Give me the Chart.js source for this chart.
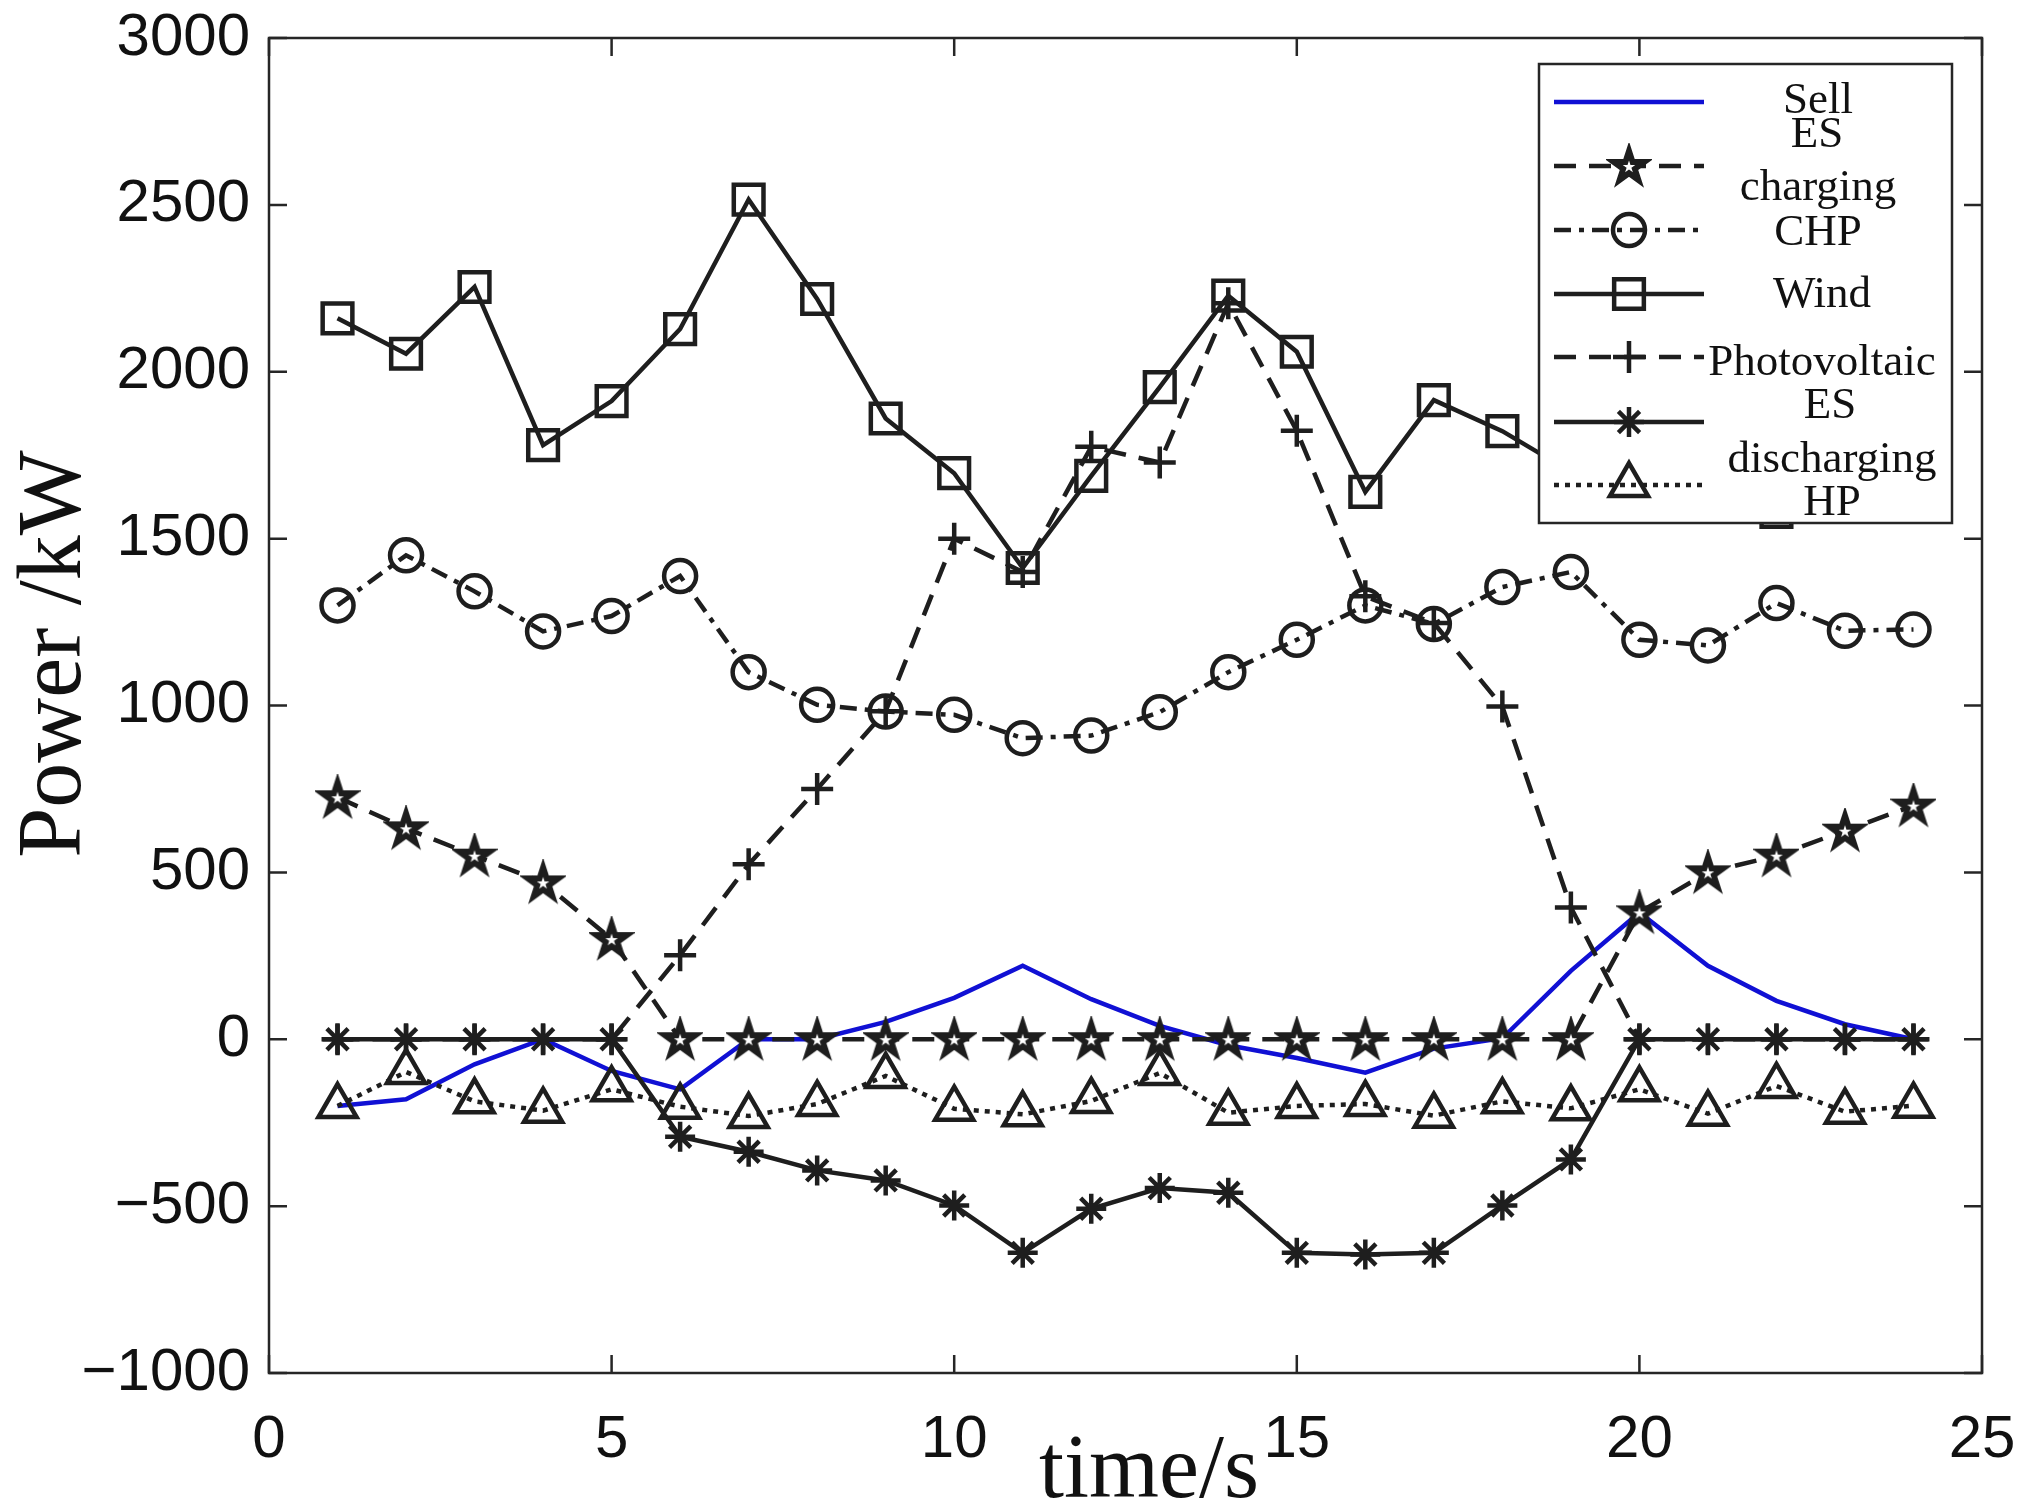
<!DOCTYPE html>
<html>
<head>
<meta charset="utf-8">
<title>Power</title>
<script src="https://cdn.jsdelivr.net/npm/chart.js@4.4.1/dist/chart.umd.min.js"></script>
<style>
  html, body { margin: 0; padding: 0; background: #fff; }
  #wrap { width: 2024px; height: 1511px; position: relative; }
</style>
</head>
<body>
<div id="wrap"><canvas id="powerChart"></canvas></div>
<script>
// hourly values (kW)
const hours = [1, 2, 3, 4, 5, 6, 7, 8, 9, 10, 11, 12, 13, 14, 15, 16, 17, 18, 19, 20, 21, 22, 23, 24];
const sell = [-200, -180, -75, 0, -95, -150, 0, 0, 52, 124, 220, 120, 40, -18, -56, -100, -28, 3, 205, 380, 220, 115, 45, 0];
const esCharging = [725, 632, 550, 470, 300, 0, 0, 0, 0, 0, 0, 0, 0, 0, 0, 0, 0, 0, 0, 380, 500, 550, 625, 700];
const chp = [1300, 1450, 1342, 1222, 1268, 1388, 1100, 1002, 982, 972, 902, 910, 980, 1100, 1197, 1300, 1244, 1355, 1400, 1197, 1180, 1307, 1224, 1228];
const wind = [2160, 2054, 2254, 1780, 1912, 2128, 2516, 2218, 1860, 1696, 1412, 1688, 1954, 2228, 2060, 1640, 1915, 1822, 1700, 1760, 1660, 1580, 1700, 1760];
const pv = [0, 0, 0, 0, 0, 252, 524, 750, 983, 1500, 1400, 1775, 1728, 2205, 1823, 1327, 1247, 997, 395, 0, 0, 0, 0, 0];
const esDischarging = [0, 0, 0, 0, 0, -292, -337, -393, -423, -498, -640, -508, -446, -460, -640, -645, -640, -498, -360, 0, 0, 0, 0, 0];
const hp = [-200, -98, -186, -214, -150, -202, -230, -194, -110, -208, -225, -185, -101, -220, -200, -194, -229, -186, -207, -150, -223, -140, -217, -199];

const seriesNames = ["Sell", "ES charging", "CHP", "Wind", "Photovoltaic", "ES discharging", "HP"];
const xTicks = [0, 5, 10, 15, 20, 25];
const yTicks = [-1000, -500, 0, 500, 1000, 1500, 2000, 2500, 3000];

const INK = "#1e1e1e";
const BLUE = "#1010d4";
const serif = '"Liberation Serif", "Times New Roman", Times, serif';
const sans = '"Liberation Sans", Arial, Helvetica, sans-serif';

// MATLAB style pentagram: thick outline leaves a small white star in the middle
function starPath(ctx, cx, cy, R) {
  const r = R * 0.382;
  ctx.beginPath();
  for (let i = 0; i < 10; i++) {
    const rad = i % 2 === 0 ? R : r;
    const a = -Math.PI / 2 + i * Math.PI / 5;
    const px = cx + rad * Math.cos(a), py = cy + rad * Math.sin(a);
    if (i === 0) ctx.moveTo(px, py); else ctx.lineTo(px, py);
  }
  ctx.closePath();
}
function makePentagram(size) {
  const c = document.createElement("canvas");
  c.width = size; c.height = size;
  const g = c.getContext("2d");
  const h = size / 2;
  starPath(g, h, h + 1, h - 1.5);
  g.fillStyle = INK; g.fill();
  g.strokeStyle = INK; g.lineWidth = 2.5; g.lineJoin = "miter"; g.stroke();
  starPath(g, h, h + 1, (h - 1) * 0.3);
  g.fillStyle = "#ffffff"; g.fill();
  return c;
}
const pentagram = makePentagram(46);

const toXY = (vals) => vals.map((v, i) => ({ x: hours[i], y: v }));

function series(i, vals, color, width, dash, style, radius) {
  return {
    label: seriesNames[i],
    data: toXY(vals),
    borderColor: color,
    borderWidth: width,
    borderDash: dash,
    pointStyle: style,
    pointRadius: radius,
    pointHoverRadius: radius,
    pointBorderColor: INK,
    pointBorderWidth: 4.5,
    pointBackgroundColor: "rgba(0,0,0,0)",
    tension: 0,
    fill: false,
    order: 6 - i
  };
}

const datasets = [
  series(0, sell, BLUE, 4.5, [], false, 0),
  series(1, esCharging, INK, 4.5, [22, 13], pentagram, 21),
  series(2, chp, INK, 4.5, [17, 8, 5, 8], "circle", 16),
  series(3, wind, INK, 4.5, [], "rect", 21),
  series(4, pv, INK, 4.5, [22, 13], "cross", 16),
  series(5, esDischarging, INK, 4.5, [], "star", 15),
  series(6, hp, INK, 4.5, [5, 6], "triangle", 22)
];

// box, inward ticks on all four sides, legend and axis titles
const matlabFrame = {
  id: "matlabFrame",
  afterDatasetsDraw(chart) {
    const { ctx, chartArea: a, scales } = chart;
    const tl = 18;
    ctx.save();
    ctx.setLineDash([]);
    ctx.strokeStyle = "#262626";
    ctx.lineWidth = 2.5;
    ctx.strokeRect(a.left, a.top, a.right - a.left, a.bottom - a.top);
    ctx.beginPath();
    scales.x.ticks.forEach((t) => {
      const px = scales.x.getPixelForValue(t.value);
      ctx.moveTo(px, a.bottom); ctx.lineTo(px, a.bottom - tl);
      ctx.moveTo(px, a.top); ctx.lineTo(px, a.top + tl);
    });
    scales.y.ticks.forEach((t) => {
      const py = scales.y.getPixelForValue(t.value);
      ctx.moveTo(a.left, py); ctx.lineTo(a.left + tl, py);
      ctx.moveTo(a.right, py); ctx.lineTo(a.right - tl, py);
    });
    ctx.stroke();

    // legend
    const box = { x: 1539, y: 64, w: 413, h: 459 };
    ctx.fillStyle = "#ffffff";
    ctx.fillRect(box.x, box.y, box.w, box.h);
    ctx.strokeStyle = "#262626";
    ctx.lineWidth = 2.5;
    ctx.strokeRect(box.x, box.y, box.w, box.h);

    const rows = [102, 166, 230, 294, 357, 422, 485];
    chart.data.datasets.forEach((ds, i) => {
      const ry = rows[i];
      ctx.save();
      ctx.strokeStyle = ds.borderColor;
      ctx.lineWidth = ds.borderWidth;
      ctx.setLineDash(ds.borderDash || []);
      ctx.beginPath();
      ctx.moveTo(1554, ry); ctx.lineTo(1704, ry);
      ctx.stroke();
      ctx.setLineDash([]);
      if (ds.pointRadius > 0) {
        ctx.strokeStyle = INK;
        ctx.fillStyle = "rgba(0,0,0,0)";
        ctx.lineWidth = ds.pointBorderWidth;
        Chart.helpers.drawPoint(ctx, {
          pointStyle: ds.pointStyle,
          radius: ds.pointRadius,
          rotation: 0,
          borderWidth: ds.pointBorderWidth
        }, 1629, ry);
      }
      ctx.restore();
    });

    // label lines as MATLAB laid them out (wrapped, centred)
    const textLines = [
      ["Sell", 1818, 113],
      ["ES", 1817, 147], ["charging", 1818, 200],
      ["CHP", 1818, 245],
      ["Wind", 1822, 307],
      ["Photovoltaic", 1822, 375],
      ["ES", 1830, 418], ["discharging", 1832, 472],
      ["HP", 1832, 515]
    ];
    ctx.fillStyle = "#111111";
    ctx.font = "45px " + serif;
    ctx.textAlign = "center";
    ctx.textBaseline = "alphabetic";
    textLines.forEach(([t, tx, ty]) => ctx.fillText(t, tx, ty));
    ctx.restore();
  },
  afterDraw(chart) {
    const { ctx } = chart;
    ctx.save();
    ctx.fillStyle = "#111111";
    ctx.font = "90px " + serif;
    ctx.textAlign = "center";
    ctx.textBaseline = "alphabetic";
    ctx.fillText("time/s", 1149, 1497);
    ctx.translate(80, 654);
    ctx.rotate(-Math.PI / 2);
    ctx.fillText("Power /kW", 0, 0);
    ctx.restore();
  }
};

const minus = (v) => (v < 0 ? "\u2212" + Math.abs(v) : String(v));

// keep the plot box exactly where the figure has it
function noLabelPadding(scale) {
  scale.paddingTop = 0;
  scale.paddingBottom = 0;
  scale.paddingLeft = 0;
  scale.paddingRight = 0;
}

new Chart(document.getElementById("powerChart").getContext("2d"), {
  type: "line",
  data: { datasets },
  options: {
    responsive: true,
    maintainAspectRatio: false,
    animation: false,
    layout: { padding: { top: 38, right: 42, left: 0, bottom: 0 } },
    plugins: {
      legend: { display: false },
      tooltip: { enabled: false },
      title: { display: false }
    },
    scales: {
      x: {
        type: "linear",
        min: 0,
        max: 25,
        afterFit: (scale) => { scale.height = 138; noLabelPadding(scale); },
        afterBuildTicks: (scale) => { scale.ticks = xTicks.map((v) => ({ value: v })); },
        grid: { display: false, drawTicks: false },
        border: { display: false },
        ticks: {
          autoSkip: false,
          maxRotation: 0,
          padding: 31,
          color: "#111111",
          font: { family: sans, size: 60 },
          callback: (v) => minus(v)
        }
      },
      y: {
        type: "linear",
        min: -1000,
        max: 3000,
        afterFit: (scale) => { scale.width = 269; noLabelPadding(scale); },
        afterBuildTicks: (scale) => { scale.ticks = yTicks.map((v) => ({ value: v })); },
        grid: { display: false, drawTicks: false },
        border: { display: false },
        ticks: {
          autoSkip: false,
          padding: 19,
          color: "#111111",
          font: { family: sans, size: 60 },
          callback: (v) => minus(v)
        }
      }
    }
  },
  plugins: [matlabFrame]
});
</script>
</body>
</html>
